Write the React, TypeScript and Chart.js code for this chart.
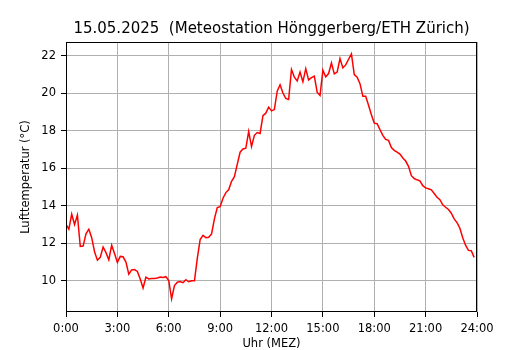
import React, { useEffect, useRef } from "react";
import { Chart, registerables } from "chart.js";

Chart.register(...registerables);

const chartTitle = "15.05.2025  (Meteostation Hönggerberg/ETH Zürich)";
const xAxisTitle = "Uhr (MEZ)";
const yAxisTitle = "Lufttemperatur (°C)";

// tick hours and their labels
const xTickHours = [0, 3, 6, 9, 12, 15, 18, 21, 24];
const xTickLabels = ["0:00", "3:00", "6:00", "9:00", "12:00", "15:00", "18:00", "21:00", "24:00"];
const yTicks = [10, 12, 14, 16, 18, 20, 22];

// 10-minute temperature values, 0:00 .. 23:50
const temps00to08 = [
  13.0, 12.75, 13.55, 13.0, 13.5, 11.83, 11.85, 12.5, 12.75, 12.3, 11.55, 11.1,
  11.25, 11.8, 11.5, 11.12, 11.9, 11.45, 10.98, 11.3, 11.28, 11.0, 10.36, 10.58,
  10.6, 10.5, 10.1, 9.62, 10.2, 10.1, 10.12, 10.12, 10.15, 10.2, 10.18, 10.22,
  10.02, 9.04, 9.75, 9.93, 9.96, 9.9, 10.06, 9.95, 10.0, 10.0, 11.2, 12.2,
];
const temps08to16 = [
  12.42, 12.3, 12.32, 12.5, 13.3, 13.9, 13.95, 14.4, 14.7, 14.85, 15.3, 15.55,
  16.2, 16.85, 17.02, 17.06, 17.95, 17.15, 17.75, 17.9, 17.85, 18.8, 18.93, 19.25,
  19.05, 19.12, 20.1, 20.44, 20.0, 19.72, 19.66, 21.25, 20.85, 20.65, 21.12, 20.6,
  21.3, 20.7, 20.82, 20.9, 20.05, 19.87, 21.22, 20.86, 21.04, 21.6, 21.02, 21.12,
];
const temps16to24 = [
  21.84, 21.34, 21.5, 21.8, 22.09, 20.98, 20.84, 20.5, 19.83, 19.83, 19.35, 18.85,
  18.4, 18.37, 18.05, 17.75, 17.53, 17.48, 17.1, 16.95, 16.85, 16.75, 16.54, 16.38,
  16.1, 15.6, 15.45, 15.38, 15.33, 15.07, 14.95, 14.9, 14.85, 14.65, 14.45, 14.32,
  14.05, 13.92, 13.8, 13.6, 13.3, 13.1, 12.8, 12.3, 11.9, 11.62, 11.6, 11.25,
];
const temperatures = [...temps00to08, ...temps08to16, ...temps16to24];
const stepMinutes = 10;

const FONT = '"DejaVu Sans", sans-serif';

const frameAndTitle = {
  id: "frameAndTitle",
  afterDatasetsDraw(chart: any) {
    const { ctx, chartArea } = chart;
    const { left, right, top, bottom } = chartArea;
    ctx.save();
    ctx.strokeStyle = "#000000";
    ctx.lineWidth = 1;
    ctx.strokeRect(left + 0.5, top + 0.5, right - left - 1, bottom - top - 1);
    ctx.fillStyle = "#000000";
    ctx.font = `15px ${FONT}`;
    ctx.textAlign = "center";
    ctx.textBaseline = "alphabetic";
    ctx.fillText(chartTitle, (left + right) / 2, 33);
    ctx.restore();
  },
};

export default function App() {
  const canvasRef = useRef<HTMLCanvasElement | null>(null);

  useEffect(() => {
    const canvas = canvasRef.current;
    if (!canvas) return;
    const points = temperatures.map((t, i) => ({ x: (i * stepMinutes) / 60, y: t }));
    const chart = new Chart(canvas, {
      type: "line",
      data: {
        datasets: [
          {
            data: points,
            borderColor: "#ff0000",
            borderWidth: 1.5,
            pointRadius: 0,
            tension: 0,
            fill: false,
          },
        ],
      },
      options: {
        responsive: false,
        animation: false,
        devicePixelRatio: 1,
        layout: { padding: { top: 42, right: 53, left: 0, bottom: 0 } },
        plugins: {
          legend: { display: false },
          tooltip: { enabled: false },
          title: { display: false },
        },
        scales: {
          x: {
            type: "linear",
            min: 0,
            max: 24,
            afterFit(scale: any) {
              scale.height = 38;
            },
            afterBuildTicks(scale: any) {
              scale.ticks = xTickHours.map((v) => ({ value: v }));
            },
            ticks: {
              autoSkip: false,
              maxRotation: 0,
              padding: 5.5,
              color: "#000000",
              font: { family: FONT, size: 11.5 },
              callback: (v: any) => {
                const idx = xTickHours.indexOf(Number(v));
                return idx >= 0 ? xTickLabels[idx] : "";
              },
            },
            grid: {
              color: "#b0b0b0",
              lineWidth: 1,
              tickColor: "#000000",
              tickLength: 5,
            },
            border: { display: false },
            title: {
              display: true,
              text: xAxisTitle,
              color: "#000000",
              font: { family: FONT, size: 11.5, lineHeight: 1.0 },
              padding: { top: 0, bottom: 0 },
            },
          },
          y: {
            type: "linear",
            min: 8.34,
            max: 22.72,
            afterFit(scale: any) {
              scale.width = 66;
            },
            afterBuildTicks(scale: any) {
              scale.ticks = yTicks.map((v) => ({ value: v }));
            },
            ticks: {
              padding: 5,
              color: "#000000",
              font: { family: FONT, size: 11.5 },
            },
            grid: {
              color: "#b0b0b0",
              lineWidth: 1,
              tickColor: "#000000",
              tickLength: 5,
            },
            border: { display: false },
            title: {
              display: true,
              text: yAxisTitle,
              color: "#000000",
              font: { family: FONT, size: 11.5, lineHeight: 1.2 },
              padding: { top: 19, bottom: 0 },
            },
          },
        },
      },
      plugins: [frameAndTitle],
    });
    return () => chart.destroy();
  }, []);

  return (
    <div style={{ position: "absolute", left: 0, top: 0, width: 530, height: 350, background: "#ffffff" }}>
      <canvas ref={canvasRef} width={530} height={350} style={{ width: 530, height: 350, display: "block" }} />
    </div>
  );
}
